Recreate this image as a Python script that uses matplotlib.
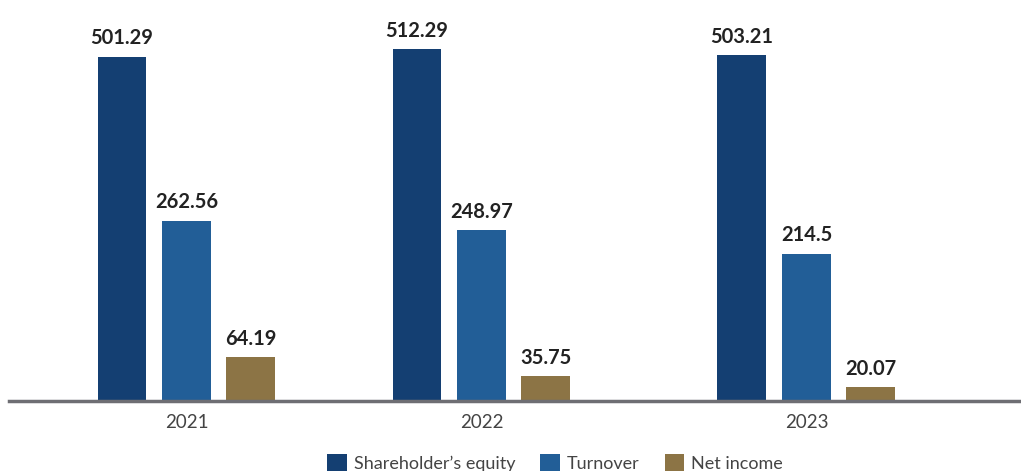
import matplotlib.pyplot as plt
import numpy as np

years = ['2021', '2022', '2023']
equity = [501.29, 512.29, 503.21]
turnover = [262.56, 248.97, 214.5]
net_income = [64.19, 35.75, 20.07]

series = [
    ("Shareholder\u2019s equity", equity, '#143f72'),
    ('Turnover', turnover, '#225e97'),
    ('Net income', net_income, '#8c7445'),
]

plt.rcParams['font.family'] = ['Lato', 'DejaVu Sans']

fig = plt.figure(figsize=(10.21, 4.71), dpi=100)
ax = fig.add_axes([9 / 1021, 70 / 471, 1 - 9 / 1021, 1 - 70 / 471])

# group centres are not evenly spaced
pos = np.array([0, 1, 2.1017])
width = 0.166
step = 0.2186

for i, (name, vals, color) in enumerate(series):
    x = pos + (i - 1) * step
    bars = ax.bar(x, vals, width=width, color=color, label=name, zorder=2)
    for b, v in zip(bars, vals):
        ax.annotate(f'{v:g}', (b.get_x() + b.get_width() / 2, v),
                    xytext=(0, 6), textcoords='offset points',
                    ha='center', va='bottom', fontsize=14.5,
                    fontweight='bold', color='#222222')

ax.set_xlim(-0.6017, 2.829)
ax.set_ylim(0, 584)
ax.set_xticks(pos)
ax.set_xticklabels(years, fontsize=13.5, color='#444444')
ax.tick_params(axis='x', length=0, pad=9)
ax.set_yticks([])
for s in ['top', 'right', 'left']:
    ax.spines[s].set_visible(False)
ax.spines['bottom'].set_color('#6e6e73')
ax.spines['bottom'].set_linewidth(2.5)
ax.spines['bottom'].set_zorder(3)

fig.legend(loc='upper center', bbox_to_anchor=(555 / 1021, 24 / 471),
           ncol=3, frameon=False, fontsize=13, handlelength=1.1,
           handleheight=1.1, handletextpad=0.35, columnspacing=1.4,
           borderaxespad=0, labelcolor='#444444')

fig.savefig('out.png', dpi=100)
